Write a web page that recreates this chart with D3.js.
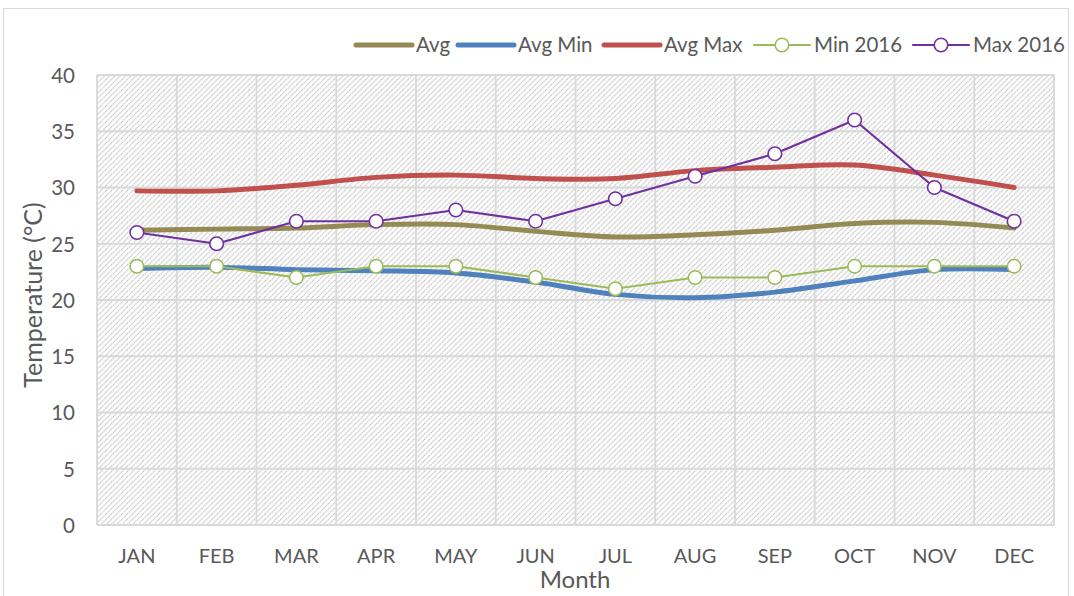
<!DOCTYPE html>
<html><head><meta charset="utf-8">
<script src="https://cdn.jsdelivr.net/npm/d3@7"></script>
<style>html,body{margin:0;padding:0;background:#fff;}svg{display:block;font-family:Lato,"Open Sans",sans-serif;}</style>
</head><body><svg id="c" width="1074" height="596"></svg>
<script>
const months = ["JAN","FEB","MAR","APR","MAY","JUN","JUL","AUG","SEP","OCT","NOV","DEC"];
const avg    = [26.2,26.3,26.4,26.7,26.7,26.1,25.6,25.8,26.2,26.8,26.9,26.4];
const avgMin = [22.8,22.9,22.7,22.6,22.4,21.6,20.5,20.2,20.7,21.7,22.7,22.7];
const avgMax = [29.7,29.7,30.2,30.9,31.1,30.8,30.8,31.5,31.8,32.0,31.1,30.0];
const min2016 = [23,23,22,23,23,22,21,22,22,23,23,23];
const max2016 = [26,25,27,27,28,27,29,31,33,36,30,27];
const yTicks = [0,5,10,15,20,25,30,35,40];
const seriesNames = ["Avg","Avg Min","Avg Max","Min 2016","Max 2016"];
const seriesData = [avg, avgMin, avgMax, min2016, max2016];
const colors = ["#948A54","#4F81BD","#C0504D","#9BBB59","#7030A0"];
const smooth = [true,true,true,false,false];
const markers = [false,false,false,true,true];
const widths = [5,5,5,2.2,2.2];

const svg = d3.select("#c");
svg.append("rect").attr("x",3.5).attr("y",8.5).attr("width",1065).attr("height",600)
  .attr("fill","none").attr("stroke","#d9d9d9").attr("stroke-width",1);

const L=97,R=1054,T=75,B=525;
const x = d3.scaleBand().domain(months).range([L,R]);
const y = d3.scaleLinear().domain([0,40]).range([B,T]);

const defs = svg.append("defs");
const P=5.3;
const pat = defs.append("pattern").attr("id","hatch").attr("patternUnits","userSpaceOnUse")
  .attr("width",P).attr("height",P);
pat.append("rect").attr("width",P).attr("height",P).attr("fill","#fff");
pat.append("path").attr("d",`M-1,1 l2,-2 M0,${P} l${P},${-P} M${P-1},${P+1} l2,-2`)
  .attr("stroke","#bdbdbd").attr("stroke-width",1.1).attr("stroke-dasharray","1.4,0.7");

svg.append("rect").attr("x",L).attr("y",T).attr("width",R-L).attr("height",B-T).attr("fill","url(#hatch)");

const g = svg.append("g");
g.selectAll("line.h").data(yTicks).enter().append("line")
  .attr("x1",L).attr("x2",R).attr("y1",d=>y(d)).attr("y2",d=>y(d))
  .attr("stroke","#d9d9d9").attr("stroke-width",1.8);
const bounds = months.map(m=>x(m)).concat([R]);
g.selectAll("line.v").data(bounds).enter().append("line")
  .attr("x1",d=>d).attr("x2",d=>d).attr("y1",T).attr("y2",B)
  .attr("stroke","#d9d9d9").attr("stroke-width",1.8);

const FONT="Lato,'Open Sans',sans-serif";
const yAxis = d3.axisLeft(y).tickValues(yTicks).tickSize(0).tickPadding(22);
const ya = svg.append("g").attr("transform",`translate(${L},0)`).call(yAxis);
ya.select(".domain").remove();
ya.selectAll("text").attr("font-size",20.5).attr("fill","#595959").attr("font-family",FONT).attr("dy","0.36em");

const xAxis = d3.axisBottom(x).tickSize(0).tickPadding(24);
const xa = svg.append("g").attr("transform",`translate(0,${B})`).call(xAxis);
xa.select(".domain").remove();
xa.selectAll("text").attr("font-size",20).attr("fill","#595959").attr("font-family",FONT);

svg.append("text").attr("x",575).attr("y",588).attr("text-anchor","middle")
  .attr("font-size",24).attr("fill","#595959").text("Month");
svg.append("text").attr("transform",`translate(42,295) rotate(-90)`).attr("text-anchor","middle")
  .attr("font-size",25).attr("fill","#595959").text("Temperature (°C)");

const cx = m => x(m)+x.bandwidth()/2;
seriesData.forEach((data,i)=>{
  const line = d3.line().x((d,j)=>cx(months[j])).y(d=>y(d))
    .curve(smooth[i]?d3.curveCatmullRom.alpha(0.5):d3.curveLinear);
  svg.append("path").datum(data).attr("d",line).attr("fill","none")
    .attr("stroke",colors[i]).attr("stroke-width",widths[i]).attr("stroke-linejoin","round").attr("stroke-linecap","round");
});
seriesData.forEach((data,i)=>{
  if(!markers[i]) return;
  svg.append("g").selectAll("circle").data(data).enter().append("circle")
    .attr("cx",(d,j)=>cx(months[j])).attr("cy",d=>y(d)).attr("r",6.8)
    .attr("fill","#fff").attr("stroke",colors[i]).attr("stroke-width",1.6);
});

const legX = [356,458,604,754,913];
const lg = svg.append("g");
seriesNames.forEach((n,i)=>{
  const x0 = legX[i], ly = 45;
  lg.append("line").attr("x1",x0).attr("x2",x0+56).attr("y1",ly).attr("y2",ly)
    .attr("stroke",colors[i]).attr("stroke-width",widths[i]).attr("stroke-linecap","round");
  if(markers[i]) lg.append("circle").attr("cx",x0+28).attr("cy",ly).attr("r",6.8)
    .attr("fill","#fff").attr("stroke",colors[i]).attr("stroke-width",1.6);
  lg.append("text").attr("x",x0+60).attr("y",ly+7).attr("font-size",20.5).attr("fill","#595959").text(n);
});
</script></body></html>
